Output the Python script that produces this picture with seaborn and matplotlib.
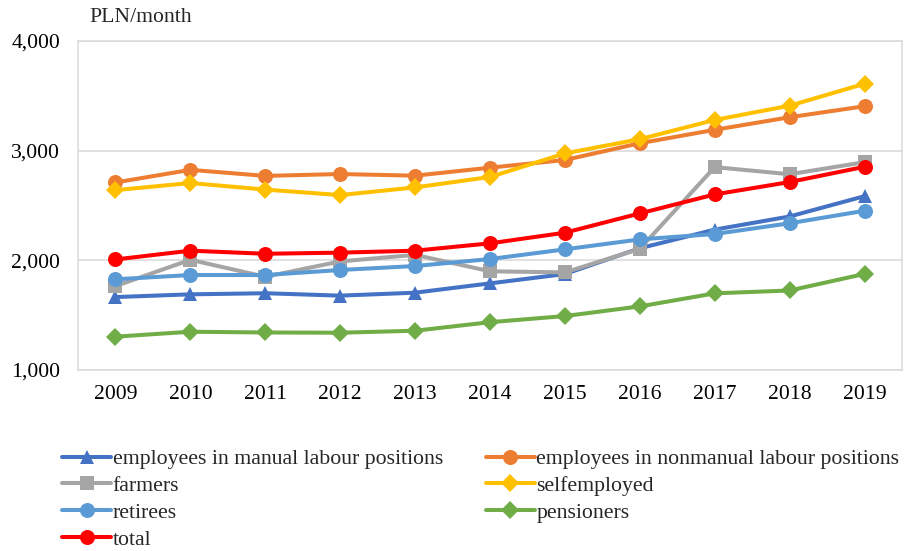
import matplotlib
matplotlib.use("Agg")
import matplotlib.pyplot as plt
from matplotlib.ticker import FuncFormatter
import seaborn as sns
import pandas as pd

years = ["2009", "2010", "2011", "2012", "2013", "2014", "2015", "2016", "2017", "2018", "2019"]

manual = [1665, 1690, 1700, 1678, 1705, 1790, 1875, 2110, 2280, 2400, 2585]
nonmanual = [2710, 2825, 2770, 2787, 2772, 2845, 2915, 3068, 3190, 3305, 3405]
farmers = [1765, 2005, 1850, 1990, 2050, 1900, 1890, 2105, 2850, 2785, 2895]
selfemployed = [2640, 2705, 2645, 2595, 2665, 2760, 2975, 3105, 3280, 3410, 3610]
retirees = [1827, 1866, 1866, 1912, 1948, 2012, 2100, 2191, 2240, 2338, 2452]
pensioners = [1304, 1349, 1342, 1340, 1358, 1436, 1492, 1580, 1699, 1725, 1876]
total = [2008, 2088, 2060, 2070, 2088, 2155, 2252, 2428, 2601, 2714, 2853]

series_names = [
    "employees in manual labour positions",
    "employees in nonmanual labour positions",
    "farmers",
    "selfemployed",
    "retirees",
    "pensioners",
    "total",
]
series_values = [manual, nonmanual, farmers, selfemployed, retirees, pensioners, total]
series_colors = ["#4472C4", "#ED7D31", "#A5A5A5", "#FFC000", "#5B9BD5", "#70AD47", "#FF0000"]
series_markers = ["^", "o", "s", "D", "o", "D", "o"]
marker_sizes = [10.5, 10.8, 9.5, 9.3, 10.8, 9.3, 10.8]

rows = []
for name, vals in zip(series_names, series_values):
    for i, v in enumerate(vals):
        rows.append({"series": name, "pos": i, "value": v})
df = pd.DataFrame(rows)

sns.set_theme(style="white")
plt.rcParams["font.family"] = ["Liberation Serif", "DejaVu Serif"]

W, H = 905, 551
fig = plt.figure(figsize=(W / 100, H / 100), dpi=100)
ax = fig.add_axes([78 / W, 1 - 370 / H, (902 - 78) / W, (370 - 41) / H])

for name, color, mk, ms in zip(series_names, series_colors, series_markers, marker_sizes):
    sub = df[df["series"] == name]
    sns.lineplot(data=sub, x="pos", y="value", ax=ax, color=color, marker=mk,
                 markersize=ms, markeredgewidth=0, linewidth=2.9, label=name)

ax.set_xlim(-0.5, len(years) - 0.5)
ax.set_ylim(1000, 4000)
ax.set_xticks(range(len(years)))
ax.set_xticklabels(years)
ax.set_yticks([1000, 2000, 3000, 4000])
ax.yaxis.set_major_formatter(FuncFormatter(lambda v, p: f"{int(v):,}"))
ax.set_xlabel("")
ax.set_ylabel("")
ax.tick_params(axis="both", length=0, labelsize=15.6, colors="#000000")
ax.tick_params(axis="y", pad=13)
ax.tick_params(axis="x", pad=11)
ax.grid(axis="y", color="#D9D9D9", linewidth=1.1)
ax.set_axisbelow(True)
for sp in ax.spines.values():
    sp.set_color("#D9D9D9")
    sp.set_linewidth(1.1)

fig.text(89 / W, 1 - 18 / H, "PLN/month", fontsize=15.6, ha="left", va="center")

handles, labels = ax.get_legend_handles_labels()
ax.get_legend().remove()
order = [0, 2, 4, 6, 1, 3, 5]
leg = fig.legend([handles[i] for i in order], [labels[i] for i in order],
                 loc="upper left", bbox_to_anchor=(62 / W, 1 - 449 / H),
                 ncol=2, frameon=False, fontsize=15.7, borderpad=0, borderaxespad=0,
                 handlelength=2.25, handletextpad=0.08, columnspacing=1.95,
                 labelspacing=0.3)

fig.savefig("out.png", dpi=100)
